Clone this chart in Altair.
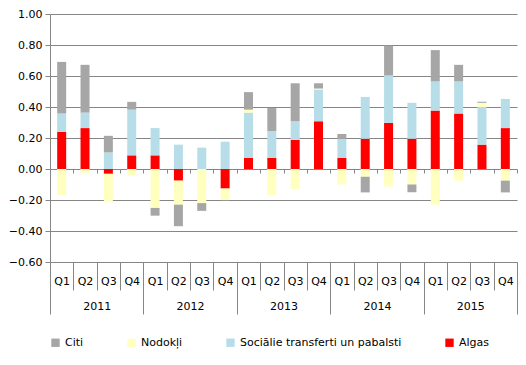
import altair as alt
import pandas as pd

years = ["2011", "2012", "2013", "2014", "2015"]
quarters = ["Q1", "Q2", "Q3", "Q4"]
series = ["Citi", "Nodokļi", "Sociālie transferti un pabalsti", "Algas"]
colors = ["#a6a6a6", "#ffffc0", "#b7dee8", "#ff0000"]

algas = [0.239, 0.264, -0.031, 0.088, 0.088, -0.075, 0.0, -0.126,
         0.071, 0.071, 0.188, 0.308, 0.071, 0.195, 0.297, 0.195,
         0.377, 0.358, 0.157, 0.264]
soc = [0.119, 0.100, 0.107, 0.295, 0.176, 0.157, 0.138, 0.176,
       0.293, 0.174, 0.120, 0.205, 0.124, 0.270, 0.306, 0.232,
       0.188, 0.207, 0.243, 0.188]
nod = [-0.168, -0.025, -0.183, -0.042, -0.251, -0.155, -0.220, -0.075,
       0.019, -0.168, -0.130, 0.006, -0.100, -0.050, -0.113, -0.100,
       -0.230, -0.075, 0.027, -0.075]
citi = [0.333, 0.308, 0.107, 0.050, -0.050, -0.139, -0.050, 0.0,
        0.113, 0.149, 0.245, 0.034, 0.031, -0.101, 0.193, -0.050,
        0.202, 0.107, 0.007, -0.076]

keys = [f"{y} {q}" for y in years for q in quarters]
vals = {"Algas": algas, "Sociālie transferti un pabalsti": soc, "Nodokļi": nod, "Citi": citi}
stack_order = {"Algas": 0, "Sociālie transferti un pabalsti": 1, "Nodokļi": 2, "Citi": 3}

rows = []
for s, arr in vals.items():
    for k, v in zip(keys, arr):
        rows.append({"key": k, "year": k[:4], "series": s, "value": v, "ord": stack_order[s]})
df = pd.DataFrame(rows)
ydf = pd.DataFrame({"year": years})
kdf = pd.DataFrame({"key": keys})

FONT = "DejaVu Sans"
W, H = 467, 248
YMIN, YMAX = -0.6, 1.0
GRAY = "#868686"

bars = alt.Chart(df).mark_bar(size=9).encode(
    x=alt.X("key:N", sort=keys, title=None,
            scale=alt.Scale(paddingInner=0, paddingOuter=0),
            axis=alt.Axis(orient="bottom", labelExpr="slice(datum.label, 5)", tickBand="extent",
                          tickSize=28, labelPadding=-15, labelAngle=0, domain=False,
                          tickColor=GRAY, labelFont=FONT, labelFontSize=11,
                          labelColor="#000000", grid=False)),
    y=alt.Y("value:Q", stack="zero", title=None,
            scale=alt.Scale(domain=[YMIN, YMAX], nice=False),
            axis=alt.Axis(values=[-0.6, -0.4, -0.2, 0, 0.2, 0.4, 0.6, 0.8, 1.0],
                          format=".2f", tickSize=5, tickColor=GRAY,
                          domainColor=GRAY, gridColor=GRAY, grid=True,
                          labelFont=FONT, labelFontSize=11, labelColor="#000000",
                          labelPadding=3)),
    color=alt.Color("series:N", scale=alt.Scale(domain=series, range=colors),
                    legend=alt.Legend(title=None, orient="bottom", direction="horizontal",
                                      columns=4, columnPadding=42, symbolType="square",
                                      symbolSize=70, symbolStrokeWidth=0, padding=0,
                                      labelFont=FONT, labelFontSize=11,
                                      labelColor="#000000", offset=22, labelLimit=300)),
    order=alt.Order("ord:Q"),
)

year_axis = alt.Chart(ydf).mark_point(opacity=0).encode(
    x=alt.X("year:N", sort=years, title=None,
            scale=alt.Scale(paddingInner=0, paddingOuter=0),
            axis=alt.Axis(orient="bottom", tickBand="extent", tickSize=52, labelPadding=-14,
                          labelAngle=0, domain=False, tickColor=GRAY,
                          labelFont=FONT, labelFontSize=11, labelColor="#000000")),
)

zero_ticks = alt.Chart(kdf).mark_point(opacity=0).encode(
    x=alt.X("key:N", sort=keys, title=None,
            scale=alt.Scale(paddingInner=0, paddingOuter=0),
            axis=alt.Axis(orient="bottom", tickBand="extent", tickSize=4, labels=False,
                          domain=False, tickColor=GRAY,
                          offset=-round(H * (0 - YMIN) / (YMAX - YMIN)))),
)

chart = alt.layer(bars, year_axis, zero_ticks).resolve_scale(x="independent").properties(
    width=W, height=H,
    autosize=alt.AutoSizeParams(type="none"),
    padding={"left": 42, "top": 6, "right": 1, "bottom": 95},
).configure_view(stroke=None).configure_axis(gridWidth=1)

chart.save("out.html", embed_options={"renderer": "svg", "actions": False})
